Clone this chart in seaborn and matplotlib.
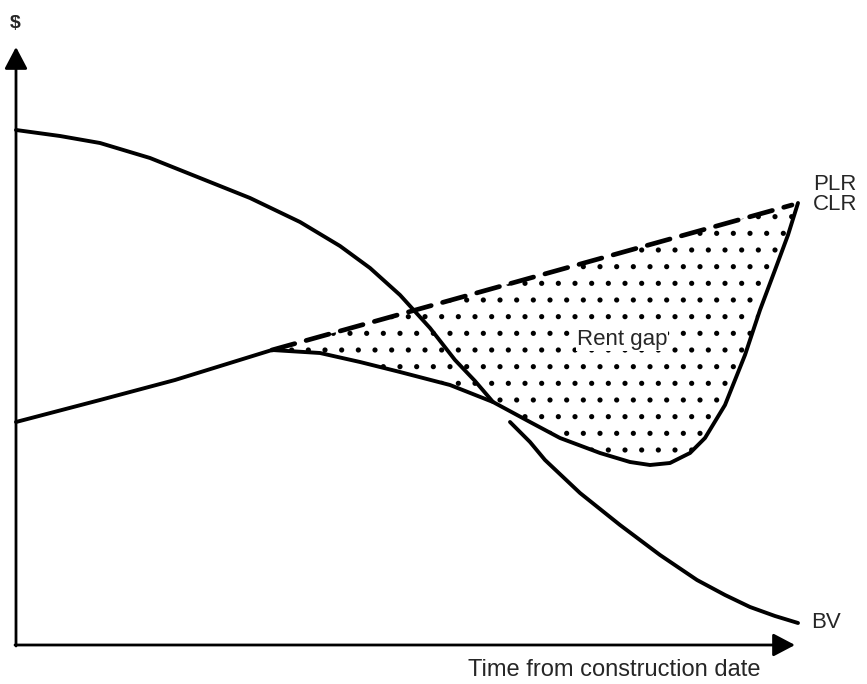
import numpy as np
import pandas as pd
import matplotlib
matplotlib.use("Agg")
import matplotlib.pyplot as plt
import seaborn as sns

# curve values (time, $), origin at the axes corner
bv_upper_t = [0, 44, 84, 134, 184, 234, 284, 324, 354, 384, 414, 439, 459, 477]
bv_upper_v = [515, 509, 502, 487, 467, 447, 423, 399, 377, 350, 317, 285, 264, 243]
bv_lower_t = [494, 514, 529, 564, 604, 644, 681, 709, 734, 759, 782]
bv_lower_v = [223, 203, 185, 152, 120, 90, 65, 50, 38, 29, 22]

clr_t = [0, 84, 159, 256, 304, 344, 384, 434, 477, 514, 544, 584, 614, 634, 654,
         674, 689, 709, 729, 744, 759, 772, 782]
clr_v = [223, 245, 265, 295, 292, 283, 273, 260, 243, 223, 207, 192, 183, 180, 182,
         192, 207, 240, 290, 335, 375, 410, 442]

plr_t = [256, 776]
plr_v = [295, 440]

sns.set_style("white")
plt.rcParams['font.family'] = ['Liberation Sans', 'DejaVu Sans']
plt.rcParams['hatch.linewidth'] = 1.3

fig = plt.figure(figsize=(8.67, 6.84), dpi=100)
ax = fig.add_axes([0, 0, 1, 1])

lw = 2.8
bv1 = pd.DataFrame({'t': bv_upper_t, 'v': bv_upper_v})
bv2 = pd.DataFrame({'t': bv_lower_t, 'v': bv_lower_v})
clr = pd.DataFrame({'t': clr_t, 'v': clr_v})
plr = pd.DataFrame({'t': plr_t, 'v': plr_v})

# rent gap: area between PLR and CLR after the kink
k = clr_t.index(256)
gap_t = plr_t + clr_t[k:][::-1]
gap_v = plr_v + clr_v[k:][::-1]
ax.fill(gap_t, gap_v, fill=False, hatch='.', linewidth=0, edgecolor='black')

sns.lineplot(data=bv1, x='t', y='v', sort=False, estimator=None, color='black',
             lw=lw, ax=ax, solid_capstyle='round')
sns.lineplot(data=bv2, x='t', y='v', sort=False, estimator=None, color='black',
             lw=lw, ax=ax, solid_capstyle='round')
sns.lineplot(data=clr, x='t', y='v', sort=False, estimator=None, color='black',
             lw=lw, ax=ax, solid_capstyle='round')
ax.plot(plr['t'], plr['v'], color='black', lw=lw + 0.6, dashes=(5, 2.5),
        dash_capstyle='round')

# axes with arrow heads
arrow = dict(arrowstyle="-|>,head_length=0.95,head_width=0.5", color='black',
             lw=2.0, mutation_scale=14, shrinkA=0, shrinkB=0)
ax.annotate('', xy=(0, 598), xytext=(0, -1), arrowprops=arrow)
ax.annotate('', xy=(779, 0), xytext=(-1, 0), arrowprops=arrow)

ax.text(-1, 622, '$', fontsize=14, fontweight='bold', ha='center', va='center')
ax.text(797, 460, 'PLR', fontsize=16, ha='left', va='center')
ax.text(797, 440, 'CLR', fontsize=16, ha='left', va='center')
ax.text(795, 23, 'BV', fontsize=16, ha='left', va='center')
ax.text(561, 305, 'Rent gap', fontsize=16, ha='left', va='center',
        bbox=dict(facecolor='white', edgecolor='none', pad=0.5))
ax.text(744, -25, 'Time from construction date', fontsize=17, ha='right',
        va='center')

ax.set_xlim(-16, 851)
ax.set_ylim(-39, 645)
ax.set_axis_off()

fig.savefig('out.png', dpi=100)
